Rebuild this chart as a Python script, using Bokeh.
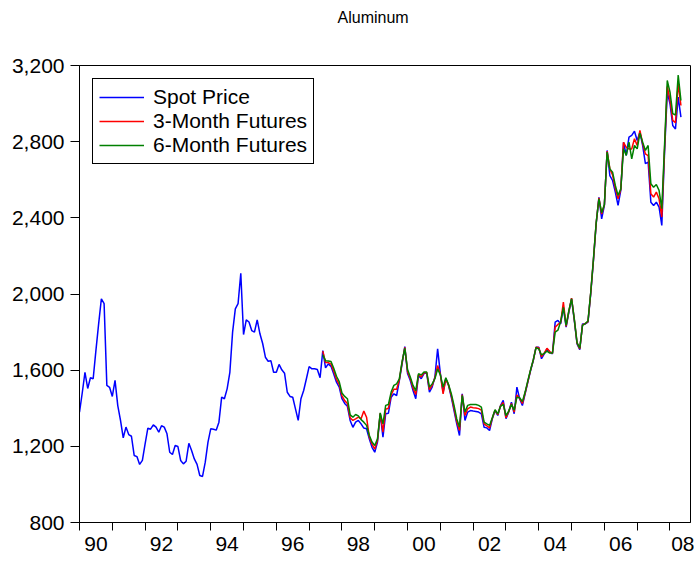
from bokeh.plotting import figure
from bokeh.models import (FixedTicker, NumeralTickFormatter, Legend, LegendItem,
                          Range1d, Title)
from bokeh.embed import file_html
from bokeh.resources import INLINE

# Monthly data, first month = January 1990 (month index 0)
spot = [
    1379, 1480, 1589, 1504, 1560, 1555, 1703, 1843, 1975, 1949, 1520, 1510,  # 1990
    1462, 1546, 1414, 1336, 1245, 1301, 1262, 1253, 1152, 1146, 1105, 1126,  # 1991
    1213, 1295, 1290, 1313, 1301, 1274, 1308, 1301, 1266, 1169, 1157, 1204,  # 1992
    1199, 1126, 1108, 1122, 1216, 1178, 1134, 1105, 1047, 1042, 1117, 1222,  # 1993
    1292, 1290, 1285, 1327, 1458, 1450, 1502, 1589, 1800, 1922, 1949, 2109,  # 1994
    1787, 1864, 1853, 1808, 1800, 1864, 1791, 1740, 1668, 1647, 1650, 1589,  # 1995
    1589, 1630, 1602, 1584, 1484, 1462, 1458, 1397, 1336, 1450, 1493, 1555,  # 1996
    1619, 1607, 1607, 1603, 1560, 1703, 1612, 1633, 1620, 1580, 1537, 1511,  # 1997
    1450, 1425, 1410, 1336, 1300, 1327, 1336, 1318, 1296, 1292, 1240, 1195,  # 1998
    1169, 1222, 1371, 1248, 1371, 1374, 1458, 1476, 1467, 1546, 1633, 1724,  # 1999
    1582, 1546, 1493, 1450, 1572, 1555, 1582, 1585, 1484, 1511, 1564, 1712,  # 2000
    1582, 1484, 1555, 1520, 1458, 1388, 1318, 1257, 1476, 1336, 1380, 1388,  # 2001
    1385, 1383, 1380, 1371, 1300, 1297, 1283, 1345, 1388, 1362, 1414, 1441,  # 2002
    1345, 1380, 1432, 1371, 1511, 1450, 1414, 1476, 1537, 1598, 1651, 1721,  # 2003
    1721, 1660, 1686, 1712, 1695, 1686, 1852, 1861, 1843, 1930, 1826, 1904,  # 2004
    1975, 1861, 1738, 1707, 1843, 1843, 1852, 2001, 2176, 2369, 2508, 2395,  # 2005
    2465, 2754, 2622, 2596, 2535, 2465, 2544, 2797, 2728, 2824, 2833, 2855,  # 2006
    2806, 2850, 2780, 2685, 2693, 2482, 2465, 2482, 2456, 2360, 2740, 3060,  # 2007
    2999, 2885, 2867, 3034, 2929,                                            # 2008
]

FUT_START = 89  # futures series begin at month index 89
fut3 = [
    1700, 1640, 1640, 1632, 1595, 1552, 1525,
    1465, 1440, 1425, 1350, 1336, 1344, 1353, 1345, 1385, 1353, 1250, 1210,
    1186, 1232, 1374, 1275, 1395, 1400, 1470, 1500, 1500, 1550, 1640, 1720,
    1592, 1555, 1507, 1472, 1577, 1565, 1586, 1588, 1498, 1520, 1560, 1624,
    1578, 1475, 1555, 1520, 1467, 1400, 1330, 1283, 1472, 1362, 1397, 1406,
    1403, 1401, 1398, 1390, 1318, 1308, 1297, 1348, 1390, 1366, 1412, 1430,
    1350, 1382, 1425, 1380, 1470, 1452, 1425, 1480, 1540, 1600, 1653, 1721,
    1718, 1670, 1690, 1715, 1698, 1688, 1826, 1840, 1850, 1957, 1830, 1910,
    1978, 1865, 1742, 1712, 1838, 1845, 1855, 2005, 2180, 2372, 2505, 2420,
    2468, 2750, 2657, 2625, 2555, 2500, 2548, 2797, 2770, 2762, 2762, 2815,
    2780, 2859, 2790, 2736, 2727, 2526, 2509, 2535, 2500, 2404, 2760, 3090,
    3020, 2912, 2900, 3104, 2990,
]
fut6 = [
    1680, 1650, 1648, 1645, 1610, 1568, 1540,
    1480, 1462, 1450, 1365, 1353, 1367, 1360, 1340, 1327, 1310, 1258, 1223,
    1204, 1240, 1376, 1318, 1415, 1420, 1485, 1520, 1528, 1555, 1645, 1715,
    1603, 1564, 1520, 1493, 1581, 1575, 1590, 1590, 1511, 1528, 1555, 1606,
    1575, 1511, 1560, 1525, 1476, 1415, 1344, 1301, 1467, 1380, 1415, 1420,
    1420, 1420, 1415, 1406, 1327, 1318, 1310, 1350, 1392, 1370, 1410, 1420,
    1362, 1385, 1420, 1390, 1458, 1455, 1435, 1485, 1545, 1602, 1655, 1718,
    1712, 1680, 1688, 1700, 1690, 1690, 1800, 1810, 1855, 1930, 1835, 1912,
    1975, 1868, 1745, 1715, 1835, 1845, 1858, 2008, 2185, 2375, 2500, 2427,
    2470, 2745, 2657, 2640, 2570, 2518, 2552, 2762, 2728, 2797, 2710, 2780,
    2762, 2845, 2797, 2754, 2780, 2579, 2561, 2575, 2544, 2448, 2780, 3121,
    3060, 2947, 2940, 3150, 3016,
]

year_labels = ["90", "92", "94", "96", "98", "00", "02", "04", "06", "08"]
y_ticks = [800, 1200, 1600, 2000, 2400, 2800, 3200]
title_text = "Aluminum"

months = list(range(len(spot)))
fut_months = list(range(FUT_START, FUT_START + len(fut3)))

FONT = "Liberation Sans"

p = figure(width=694, height=562, output_backend="svg", toolbar_location=None,
           title_location=None,
           x_range=Range1d(0, 223.5), y_range=Range1d(800, 3200),
           min_border_left=79, min_border_right=4, min_border_top=65,
           min_border_bottom=40, background_fill_color="white",
           border_fill_color="white")

# blank spacer panel next to the frame, then the title above it
p.add_layout(Title(text=" ", text_font=FONT, text_font_size="16px",
                   standoff=19, text_color="white"), "above")
p.add_layout(Title(text=title_text, align="left", offset=258,
                   vertical_align="top", standoff=0, text_font=FONT,
                   text_font_size="16px", text_font_style="normal",
                   text_color="black"), "above")

p.grid.visible = False
p.outline_line_color = "black"
p.outline_line_width = 1
p.outline_line_alpha = 1

r1 = p.line(months, spot, line_color="#0000FF", line_width=1.5)
r2 = p.line(fut_months, fut3, line_color="#FF0000", line_width=1.5)
r3 = p.line(fut_months, fut6, line_color="#008000", line_width=1.5)

# x axis: year ticks (minor) and two-year labels placed mid-year
label_ticks = [24 * i + 6 for i in range(len(year_labels))]
year_ticks = [12 * i for i in range(19)]
xa = p.xaxis[0]
xa.ticker = FixedTicker(ticks=label_ticks, minor_ticks=year_ticks)
xa.major_label_overrides = {t: lab for t, lab in zip(label_ticks, year_labels)}
xa.major_tick_out = 0
xa.major_tick_in = 0
xa.minor_tick_out = 8
xa.minor_tick_in = 0
xa.minor_tick_line_color = "black"
xa.axis_line_color = "black"
xa.major_label_text_font = FONT
xa.major_label_text_font_size = "21px"
xa.major_label_text_color = "black"
xa.major_label_standoff = 6

ya = p.yaxis[0]
ya.ticker = FixedTicker(ticks=y_ticks, minor_ticks=[])
ya.formatter = NumeralTickFormatter(format="0,0")
ya.major_tick_out = 9
ya.major_tick_in = 0
ya.minor_tick_line_color = None
ya.major_tick_line_color = "black"
ya.axis_line_color = "black"
ya.major_label_text_font = FONT
ya.major_label_text_font_size = "21px"
ya.major_label_text_color = "black"
ya.major_label_standoff = 6

legend = Legend(items=[LegendItem(label="Spot Price", renderers=[r1]),
                       LegendItem(label="3-Month Futures", renderers=[r2]),
                       LegendItem(label="6-Month Futures", renderers=[r3])],
                location="top_left", margin=13, padding=6, spacing=0,
                label_height=24, glyph_height=24, glyph_width=45,
                label_standoff=9, border_line_color="black",
                border_line_width=1, border_line_alpha=1,
                label_text_font=FONT, label_text_font_size="21px",
                label_text_color="black", background_fill_color="white",
                background_fill_alpha=1)
p.add_layout(legend)

open("out.html", "w").write(file_html(p, INLINE))
